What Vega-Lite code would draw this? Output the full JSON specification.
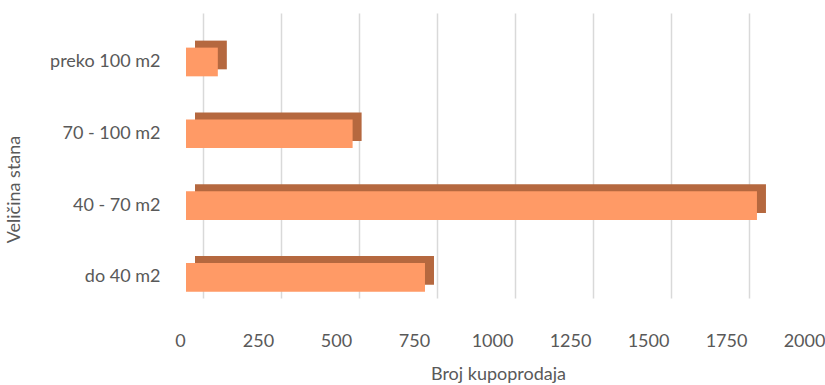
{
  "$schema": "https://vega.github.io/schema/vega-lite/v6.json",
  "width": 624,
  "height": 285,
  "autosize": "none",
  "padding": {"left": 186, "top": 13, "right": 15, "bottom": 87},
  "background": "white",
  "config": {"view": {"stroke": null}, "font": "Lato"},
  "data": {"values": [
    {"velicina": "preko 100 m2", "broj": 102},
    {"velicina": "70 - 100 m2", "broj": 534},
    {"velicina": "40 - 70 m2", "broj": 1830},
    {"velicina": "do 40 m2", "broj": 766}
  ]},
  "encoding": {
    "y": {
      "field": "velicina", "type": "nominal",
      "sort": ["preko 100 m2", "70 - 100 m2", "40 - 70 m2", "do 40 m2"],
      "scale": {"paddingInner": 0.6, "paddingOuter": 0.285, "align": 0.846},
      "axis": {
        "title": "Veličina stana", "titleFontSize": 18, "titleFontWeight": "normal", "titleColor": "#595959",
        "titleX": -172, "titleY": 176, "titleBaseline": "middle", "titleAngle": -90,
        "labelFontSize": 18, "labelColor": "#595959", "labelPadding": 26,
        "ticks": false, "domain": false, "grid": false
      }
    },
    "x": {
      "field": "broj", "type": "quantitative",
      "scale": {"domain": [0, 2000], "nice": false},
      "axis": {
        "values": [0, 250, 500, 750, 1000, 1250, 1500, 1750, 2000],
        "format": "d",
        "title": "Broj kupoprodaja", "titleFontSize": 18, "titleFontWeight": "normal", "titleColor": "#595959", "titlePadding": 15,
        "labelFontSize": 18, "labelColor": "#595959", "labelPadding": 34, "labelOffset": -23, "tickOffset": 17,
        "ticks": false, "domain": false, "grid": true, "gridColor": "#D9D9D9", "gridWidth": 1.5, "labelFlush": false
      }
    }
  },
  "layer": [
    {"mark": {"type": "bar", "color": "#B5683F", "xOffset": 9, "yOffset": -7}},
    {"mark": {"type": "bar", "color": "#FF9A66"}}
  ]
}
